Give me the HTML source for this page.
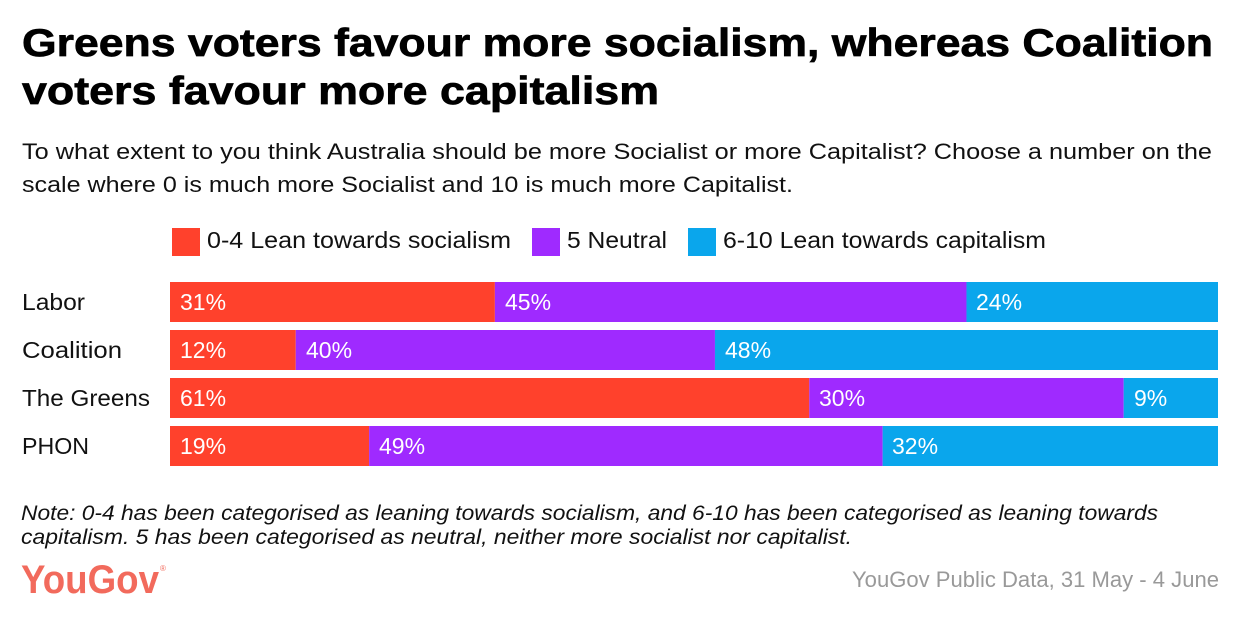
<!DOCTYPE html>
<html>
<head>
<meta charset="utf-8">
<style>
  html, body { margin: 0; padding: 0; background: #ffffff; }
  body { width: 1240px; height: 622px; overflow: hidden; }
  svg { display: block; }
  text { font-family: "Liberation Sans", "DejaVu Sans", sans-serif; }
</style>
</head>
<body>
<svg width="1240" height="622" viewBox="0 0 1240 622" xmlns="http://www.w3.org/2000/svg">
  <rect x="0" y="0" width="1240" height="622" fill="#ffffff"/>

  <!-- Title -->
  <text x="22" y="56" font-size="39" font-weight="bold" fill="#000" stroke="#000" stroke-width="0.7" textLength="1191" lengthAdjust="spacingAndGlyphs">Greens voters favour more socialism, whereas Coalition</text>
  <text x="22" y="104" font-size="39" font-weight="bold" fill="#000" stroke="#000" stroke-width="0.7" textLength="637" lengthAdjust="spacingAndGlyphs">voters favour more capitalism</text>

  <!-- Subtitle -->
  <text x="22" y="159" font-size="22" fill="#111" textLength="1190" lengthAdjust="spacingAndGlyphs">To what extent to you think Australia should be more Socialist or more Capitalist? Choose a number on the</text>
  <text x="22" y="192" font-size="22" fill="#111" textLength="771" lengthAdjust="spacingAndGlyphs">scale where 0 is much more Socialist and 10 is much more Capitalist.</text>

  <!-- Legend -->
  <rect x="172" y="228" width="28" height="28" fill="#ff412c"/>
  <text x="207" y="248" font-size="23" fill="#111" textLength="304" lengthAdjust="spacingAndGlyphs">0-4 Lean towards socialism</text>
  <rect x="532" y="228" width="28" height="28" fill="#9f2aff"/>
  <text x="567" y="248" font-size="23" fill="#111" textLength="100" lengthAdjust="spacingAndGlyphs">5 Neutral</text>
  <rect x="688" y="228" width="28" height="28" fill="#0aa6ec"/>
  <text x="723" y="248" font-size="23" fill="#111" textLength="323" lengthAdjust="spacingAndGlyphs">6-10 Lean towards capitalism</text>

  <!-- Row labels -->
  <g font-size="23" fill="#111">
    <text x="22" y="310" textLength="63" lengthAdjust="spacingAndGlyphs">Labor</text>
    <text x="22" y="358" textLength="100" lengthAdjust="spacingAndGlyphs">Coalition</text>
    <text x="22" y="406" textLength="128" lengthAdjust="spacingAndGlyphs">The Greens</text>
    <text x="22" y="454" textLength="67" lengthAdjust="spacingAndGlyphs">PHON</text>
  </g>

  <!-- Bars -->
  <!-- Labor 31/45/24 -->
  <rect x="170" y="282" width="324.88" height="40" fill="#ff412c"/>
  <rect x="494.88" y="282" width="471.6" height="40" fill="#9f2aff"/>
  <rect x="966.48" y="282" width="251.52" height="40" fill="#0aa6ec"/>
  <!-- Coalition 12/40/48 -->
  <rect x="170" y="330" width="125.76" height="40" fill="#ff412c"/>
  <rect x="295.76" y="330" width="419.2" height="40" fill="#9f2aff"/>
  <rect x="714.96" y="330" width="503.04" height="40" fill="#0aa6ec"/>
  <!-- Greens 61/30/9 -->
  <rect x="170" y="378" width="639.28" height="40" fill="#ff412c"/>
  <rect x="809.28" y="378" width="314.4" height="40" fill="#9f2aff"/>
  <rect x="1123.68" y="378" width="94.32" height="40" fill="#0aa6ec"/>
  <!-- PHON 19/49/32 -->
  <rect x="170" y="426" width="199.12" height="40" fill="#ff412c"/>
  <rect x="369.12" y="426" width="513.52" height="40" fill="#9f2aff"/>
  <rect x="882.64" y="426" width="335.36" height="40" fill="#0aa6ec"/>

  <!-- Value labels -->
  <g font-size="23" fill="#ffffff">
    <text x="180" y="310">31%</text>
    <text x="505" y="310">45%</text>
    <text x="976" y="310">24%</text>

    <text x="180" y="358">12%</text>
    <text x="306" y="358">40%</text>
    <text x="725" y="358">48%</text>

    <text x="180" y="406">61%</text>
    <text x="819" y="406">30%</text>
    <text x="1134" y="406">9%</text>

    <text x="180" y="454">19%</text>
    <text x="379" y="454">49%</text>
    <text x="892" y="454">32%</text>
  </g>

  <!-- Note -->
  <text x="21" y="520" font-size="21" font-style="italic" fill="#111" textLength="1137" lengthAdjust="spacingAndGlyphs">Note: 0-4 has been categorised as leaning towards socialism, and 6-10 has been categorised as leaning towards</text>
  <text x="21" y="544" font-size="21" font-style="italic" fill="#111" textLength="831" lengthAdjust="spacingAndGlyphs">capitalism. 5 has been categorised as neutral, neither more socialist nor capitalist.</text>

  <!-- YouGov logo -->
  <text x="21" y="593" font-size="40" font-weight="bold" fill="#f26a5c" textLength="138" lengthAdjust="spacingAndGlyphs">YouGov</text>
  <text x="160" y="571" font-size="8" fill="#f26a5c">®</text>

  <!-- Source -->
  <text x="1219" y="587" font-size="22" fill="#999999" text-anchor="end" textLength="367" lengthAdjust="spacingAndGlyphs">YouGov Public Data, 31 May - 4 June</text>
</svg>
</body>
</html>
